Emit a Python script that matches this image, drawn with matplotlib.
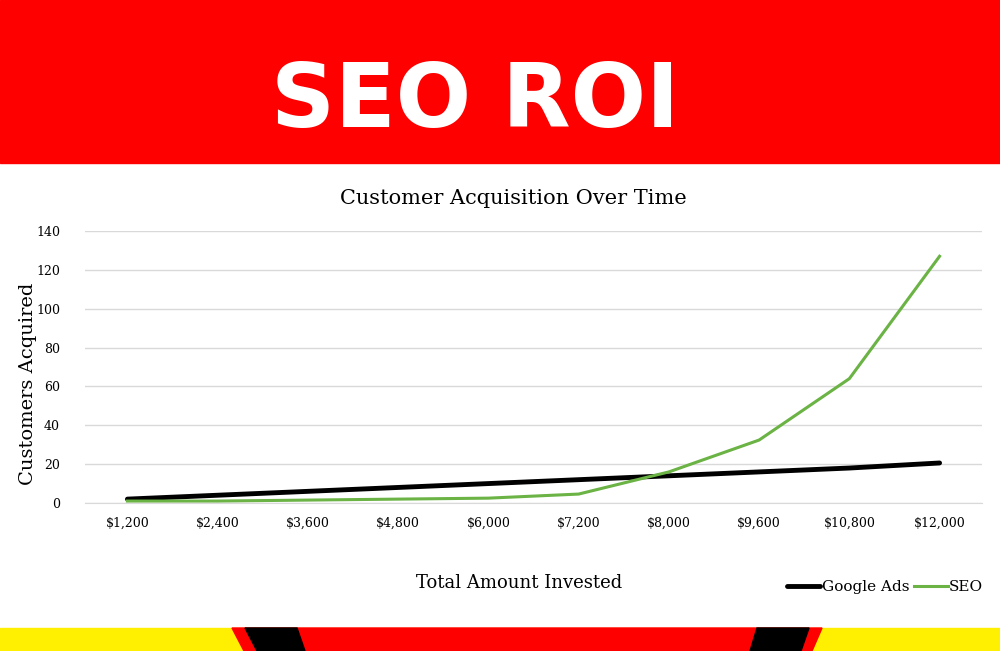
import matplotlib
matplotlib.use("Agg")
import matplotlib.pyplot as plt
from matplotlib.patches import Polygon, Rectangle

categories = ["$1,200","$2,400","$3,600","$4,800","$6,000","$7,200","$8,000","$9,600","$10,800","$12,000"]
google_ads = [2, 4, 6, 8, 10, 12, 14, 16, 18, 20.6]
seo = [1, 1, 1.5, 2, 2.5, 4.6, 16, 32.4, 64, 127]
yticks = [0, 20, 40, 60, 80, 100, 120, 140]

W, H = 1000, 651
fig = plt.figure(figsize=(W/100, H/100), dpi=100)
bg = fig.add_axes([0, 0, 1, 1])
bg.set_xlim(0, W); bg.set_ylim(H, 0); bg.axis("off")
bg.add_patch(Rectangle((0, 0), W, 163, color="#ff0000"))
bg.text(475, 103, "SEO ROI", color="white", fontsize=64, fontweight="black",
        family="DejaVu Sans", ha="center", va="center")
bg.add_patch(Rectangle((0, 628), W, 23, color="#ffef00"))
bg.add_patch(Polygon([(232, 628), (822, 628), (812, 651), (244, 651)], color="#ff0000"))
bg.add_patch(Polygon([(245, 628), (297, 628), (305, 651), (257, 651)], color="black"))
bg.add_patch(Polygon([(757, 628), (809, 628), (801, 651), (750, 651)], color="black"))

ax = fig.add_axes([85/W, 1-503/H, (982-85)/W, (503-231)/H])
x = list(range(len(categories)))
ax.plot(x, google_ads, color="black", lw=3.5, label="Google Ads", solid_capstyle="round")
ax.plot(x, seo, color="#6ab344", lw=2.2, label="SEO")
ax.set_xlim(-0.47, len(categories)-0.53)
ax.set_ylim(0, 140)
ax.set_yticks(yticks)
ax.set_xticks(x)
ax.set_xticklabels(categories, family="DejaVu Serif", fontsize=9)
for t in ax.get_yticklabels():
    t.set_family("DejaVu Serif"); t.set_fontsize(9)
ax.grid(axis="y", color="#d9d9d9", lw=1)
ax.set_axisbelow(True)
for s in ["top", "right", "left"]:
    ax.spines[s].set_visible(False)
ax.spines["bottom"].set_color("#d9d9d9")
ax.tick_params(length=0, pad=10)
ax.tick_params(axis="y", pad=18)
fig.text(513/W, 1-198/H, "Customer Acquisition Over Time", family="DejaVu Serif",
         fontsize=15, ha="center", va="center")
fig.text(28/W, 1-384/H, "Customers Acquired", family="DejaVu Serif", fontsize=14,
         rotation=90, ha="center", va="center")
fig.text(519/W, 1-583/H, "Total Amount Invested", family="DejaVu Serif", fontsize=13,
         ha="center", va="center")
ax.legend(loc="center", bbox_to_anchor=(885/W, 1-587/H), bbox_transform=fig.transFigure,
          ncol=2, frameon=False, prop={"family": "DejaVu Serif", "size": 11},
          handlelength=2.2, columnspacing=0.3, handletextpad=0.1)
fig.savefig("out.png", dpi=100)
